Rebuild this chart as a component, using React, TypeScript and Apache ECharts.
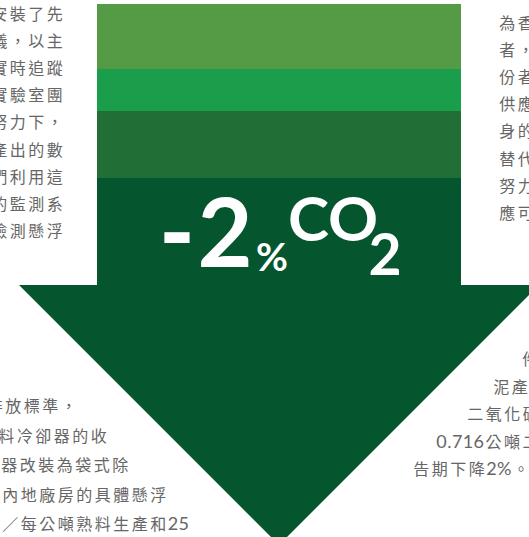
import React, { useEffect, useRef } from 'react';
import * as echarts from 'echarts';

// ---- content ----
const headlineSign = '-';
const headlineDigit = '2';
const headlineUnit = '%';
const headlineGas = 'CO';
const headlineSub = '2';

const topLeftLines = ['安裝了先', '儀，以主', '實時追蹤', '實驗室團', '努力下，', '產出的數', '們利用這', '的監測系', '檢測懸浮'];
const rightLines = ['為香', '者，', '份者', '供應', '身的', '替代', '努力', '應可'];
const bottomLeftLines = ['排放標準，', '料冷卻器的收', '器改裝為袋式除', '內地廠房的具體懸浮', '／每公噸熟料生產和25'];
const bottomRightLines = ['件', '泥產', '二氧化碳', '0.716公噸二', '告期下降2%。'];

// ---- styles ----
const BAND_COLORS = ['#559a45', '#1a9e4c', '#216f37'];
const ARROW_COLOR = '#05562f';
const TEXT_COLOR = '#666666';
const CJK_FONT = '"Noto Sans CJK TC", "Noto Sans CJK SC", sans-serif';
const LATIN_FONT = 'Lato, "Noto Sans", sans-serif';
const FS = 16;
const PITCH = 18.5;

function advance(ch: string): number {
  if (/[0-9]/.test(ch)) return 10.8;
  if (ch === '.') return 5;
  if (ch === '%') return 15;
  return PITCH;
}

function lineEls(line: string, x0: number, y: number, anchor: 'left' | 'right') {
  const chars = Array.from(line);
  const w = chars.map(advance);
  const total = w.reduce((a, b) => a + b, 0);
  let x = anchor === 'left' ? x0 : x0 - total;
  const els: any[] = [];
  chars.forEach((ch, i) => {
    const ascii = /[0-9.%]/.test(ch);
    els.push({
      type: 'text',
      silent: true,
      style: {
        text: ch,
        x: x + w[i] / 2,
        y,
        align: 'center',
        verticalAlign: 'middle',
        font: `400 ${ascii ? 18 : FS}px ${ascii ? LATIN_FONT : CJK_FONT}`,
        fill: TEXT_COLOR,
      },
    });
    x += w[i];
  });
  return els;
}

export default function App() {
  const ref = useRef<HTMLDivElement>(null);
  useEffect(() => {
    if (!ref.current) return;
    const chart = echarts.init(ref.current, undefined, { renderer: 'svg' });

    const shaftL = 97, shaftR = 461;
    const bandEdges = [4, 69, 111, 178];
    const shoulder = 285;
    const cx = (shaftL + shaftR) / 2;
    const half = 260;

    const els: any[] = [];
    BAND_COLORS.forEach((c, i) => {
      els.push({
        type: 'rect',
        silent: true,
        shape: { x: shaftL, y: bandEdges[i], width: shaftR - shaftL, height: bandEdges[i + 1] - bandEdges[i] + (i === 2 ? 0.5 : 0.3) },
        style: { fill: c },
      });
    });
    els.push({
      type: 'polygon',
      silent: true,
      shape: {
        points: [
          [shaftL, bandEdges[3]], [shaftR, bandEdges[3]], [shaftR, shoulder], [cx + half, shoulder],
          [cx, shoulder + half], [cx - half, shoulder], [shaftL, shoulder],
        ],
      },
      style: { fill: ARROW_COLOR },
    });

    const white = '#ffffff';
    const HFONT = 'Lato, "Noto Sans", sans-serif';
    els.push({ type: 'text', silent: true, style: { text: headlineSign, x: 177, y: 230, align: 'center', verticalAlign: 'middle', font: `900 95px ${HFONT}`, fill: white } });
    els.push({ type: 'text', silent: true, style: { text: headlineDigit, x: 225, y: 230, align: 'center', verticalAlign: 'middle', font: `700 95px ${HFONT}`, fill: white } });
    els.push({ type: 'text', silent: true, style: { text: headlineUnit, x: 272, y: 256, align: 'center', verticalAlign: 'middle', font: `700 39px ${HFONT}`, fill: white } });
    els.push({ type: 'text', silent: true, style: { text: headlineGas, x: 333, y: 217, align: 'center', verticalAlign: 'middle', font: `700 62px ${HFONT}`, fill: white } });
    els.push({ type: 'text', silent: true, style: { text: headlineSub, x: 385, y: 253, align: 'center', verticalAlign: 'middle', font: `700 57px ${HFONT}`, fill: white } });

    topLeftLines.forEach((l, i) => els.push(...lineEls(l, 64, 13 + i * 27.1, 'right')));
    rightLines.forEach((l, i) => els.push(...lineEls(l, 498, 22 + i * 27.1, 'left')));
    const blX = [-14.5, -3, 0, 1, 1];
    bottomLeftLines.forEach((l, i) => els.push(...lineEls(l, blX[i], 405 + i * 29.5, 'left')));
    const brX = [521, 492, 466, 436, 412];
    bottomRightLines.forEach((l, i) => els.push(...lineEls(l, brX[i], 358 + i * 27.5, 'left')));

    chart.setOption({
      animation: false,
      backgroundColor: '#ffffff',
      graphic: { elements: els },
    });
    return () => chart.dispose();
  }, []);
  return <div ref={ref} style={{ position: 'absolute', left: 0, top: 0, width: 529, height: 537 }} />;
}
